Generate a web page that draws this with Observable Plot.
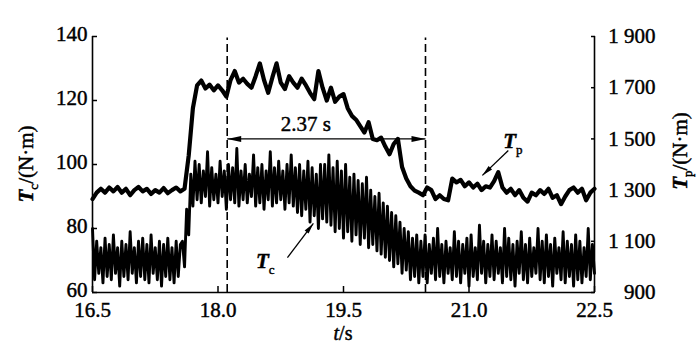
<!DOCTYPE html>
<html><head><meta charset="utf-8">
<script src="https://cdn.jsdelivr.net/npm/d3@7"></script>
<script src="https://cdn.jsdelivr.net/npm/@observablehq/plot@0.6"></script>
<style>
body{margin:0;background:#fff}
svg, svg text, svg tspan{font-family:"Liberation Serif","DejaVu Serif","Times New Roman",Times,serif !important}
svg text{stroke:#000;stroke-width:0.45px;paint-order:stroke}
</style>
</head><body><div id="chart"></div>
<script>
// ---- data ----
const xTicks = [16.5, 18.0, 19.5, 21.0, 22.5];
const tcTicks = [60, 80, 100, 120, 140];
const tpTicks = [900, 1100, 1300, 1500, 1700, 1900];
const tpTickLabels = ["900", "1 100", "1 300", "1 500", "1 700", "1 900"];
const tStart = 16.5;
const tpStep = 0.05;
const tpValues = [
  1265,1290,1305,1290,1310,1295,1312,1290,1305,1280,
  1300,1312,1295,1305,1285,1300,1290,1308,1288,1300,
  1310,1295,1305,1435,1620,1709,1728,1697,1712,1690,
  1709,1690,1665,1730,1765,1720,1735,1715,1700,1745,
  1795,1730,1680,1740,1795,1720,1695,1745,1720,1700,
  1735,1710,1680,1655,1765,1700,1650,1700,1645,1665,
  1675,1620,1590,1575,1550,1525,1565,1500,1495,1505,
  1470,1440,1480,1500,1390,1345,1315,1298,1290,1280,
  1310,1300,1265,1280,1265,1260,1345,1330,1340,1315,
  1330,1310,1325,1300,1315,1310,1335,1370,1310,1290,
  1305,1280,1300,1270,1255,1290,1280,1300,1285,1305,
  1270,1280,1245,1275,1300,1310,1290,1305,1260,1290,
  1305
];
const tcStep = 0.025;
const tcValues = [
  // 16.5 - 17.55
  80,64,76,66,74,63,77,65,75,64, 78,66,74,62,76,65,75,64,79,66,
  74,63,76,65,77,64,75,63,78,66, 74,64,76,62,75,65,77,64,74,63,
  76,65,75,
  // rise
  76,68,86,78,97,87,101,
  // plateau 17.75 - 19.25
  89,100,88,98,90,104,87,99,89,97, 88,101,90,98,86,100,89,99,88,105,
  87,98,89,100,88,97,90,103,87,99, 88,100,86,98,89,104,87,99,88,101,
  89,98,86,100,88,103,87,99,85,100, 84,98,86,101,82,99,84,97,80,100,
  83,
  // decline 19.275 - 20.4
  100,82,103,81,99,79,101,80,98,77, 100,79,96,76,97,78,95,75,94,77,
  96,74,92,75,90,73,91,72,88,71, 87,70,85,68,84,69,82,66,80,67,
  79,64,77,65,78,63,
  // 20.425 - 22.5
  76,65,78,63,75,66,77,64,80,65, 75,63,76,66,74,64,79,65,76,63,
  75,66,77,62,78,65,74,64,81,66, 76,63,75,65,78,64,76,66,74,63,
  80,65,77,64,75,62,76,66,79,64, 75,63,77,65,74,66,80,64,76,63,
  78,65,75,62,77,66,74,64,79,63, 76,65,75,62,78,64,76,63,74,65,
  80,64,75,66
];
const markerTimes = [18.11, 20.48];
const spanLabel = "2.37 s";
const spanLevel = 108;          // in Tc units
const spanLabelPos = {t: 19.05, tc: 110.6};
const tcArrow = {t1: 18.83, v1: 70.9, t2: 19.14, v2: 81.6};
const tpArrow = {t1: 21.47, v1: 104.4, t2: 21.16, v2: 96.6};
const tcLabelPos = {t: 18.57, v: 67.5};
const tpLabelPos = {t: 21.53, v: 105.0};

// dual-axis relation: Tp 900..1900 <-> Tc 60..140
const tcOf = tp => 60 + (tp - 900) * 80 / 1000;
const tpOf = tc => 900 + (tc - 60) * 1000 / 80;

const tpData = tpValues.map((v, i) => ({t: tStart + i * tpStep, y: tcOf(v)}));
const tcData = tcValues.map((v, i) => ({t: tStart + i * tcStep, y: v}));

const headSymbol = (L, W) => ({
  draw(ctx) { ctx.moveTo(0, 0); ctx.lineTo(-L, -W / 2); ctx.lineTo(-L, W / 2); ctx.closePath(); }
});

const FONT = "'Liberation Serif', 'DejaVu Serif', 'Times New Roman', serif";

const plot = Plot.plot({
  width: 700, height: 345,
  marginLeft: 92, marginRight: 106, marginTop: 36, marginBottom: 53,
  style: {fontFamily: FONT, fontSize: "21px", background: "white", color: "black", overflow: "visible"},
  x: {domain: [16.5, 22.5]},
  y: {domain: [60, 140]},
  marks: [
    Plot.line(tcData, {x: "t", y: "y", stroke: "black", strokeWidth: 2.9}),
    Plot.line(tpData, {x: "t", y: "y", stroke: "black", strokeWidth: 4.2, strokeLinejoin: "round"}),
    Plot.ruleX(markerTimes, {y1: 60, y2: 139.5, stroke: "black", strokeWidth: 1.6, strokeDasharray: "8,4"}),
    Plot.link([{x1: markerTimes[0], x2: markerTimes[1]}], {x1: "x1", x2: "x2", y1: spanLevel, y2: spanLevel, stroke: "black", strokeWidth: 1.4}),
    Plot.dot([markerTimes[1]], {x: d => d, y: spanLevel, symbol: headSymbol(14, 6), fill: "black", stroke: null, rotate: 0}),
    Plot.dot([markerTimes[0]], {x: d => d, y: spanLevel, symbol: headSymbol(14, 6), fill: "black", stroke: null, rotate: 180}),
    Plot.text([spanLabel], {x: spanLabelPos.t, y: spanLabelPos.tc, text: d => d, fontSize: 21, lineAnchor: "bottom", fontFamily: FONT}),
    Plot.link([tcArrow], {x1: "t1", y1: "v1", x2: "t2", y2: "v2", stroke: "black", strokeWidth: 1.3}),
    Plot.dot([tcArrow], {x: "t2", y: "v2", symbol: headSymbol(11, 5), fill: "black", stroke: null, rotate: -52}),
    Plot.link([tpArrow], {x1: "t1", y1: "v1", x2: "t2", y2: "v2", stroke: "black", strokeWidth: 1.3}),
    Plot.dot([tpArrow], {x: "t2", y: "v2", symbol: headSymbol(11, 5), fill: "black", stroke: null, rotate: 136}),
    Plot.ruleX([16.5, 22.5], {stroke: "black", strokeWidth: 1.6}),
    Plot.ruleY([60], {stroke: "black", strokeWidth: 1.6}),
    Plot.axisX({ticks: xTicks, tickSize: -6, tickPadding: 16, tickFormat: d => d.toFixed(1), label: null, fontSize: 21, strokeWidth: 1.5, fontFamily: FONT}),
    Plot.axisY({anchor: "left", ticks: tcTicks, tickSize: 0, tickPadding: 5, dy: -2, label: null, fontSize: 21, fontFamily: FONT}),
    Plot.axisY({anchor: "left", ticks: tcTicks, tickSize: -5, tickPadding: 10, text: null, label: null, strokeWidth: 1.5}),
    Plot.axisY({anchor: "right", ticks: tpTicks.map(tcOf), tickSize: -4, tickPadding: 65, textAnchor: "end",
      tickFormat: d => tpTickLabels[tpTicks.indexOf(Math.round(tpOf(d)))], label: null, fontSize: 21, strokeWidth: 1.5, fontFamily: FONT})
  ]
});

document.getElementById("chart").appendChild(plot);

// ---- rich text labels (subscripts) ----
const svg = d3.select(plot);
const sx = plot.scale("x"), sy = plot.scale("y");
function richText(g, parts) {
  g.attr("font-family", FONT);
  parts.forEach(p => {
    const ts = g.append("tspan").text(p.text);
    if (p.italic) ts.attr("font-style", "italic");
    if (p.bold) ts.attr("font-weight", "bold");
    if (p.size) ts.attr("font-size", p.size);
    if (p.dy) ts.attr("dy", p.dy);
  });
}
const symParts = (sub) => [
  {text: "T", italic: true, bold: true},
  {text: sub, size: 13, dy: 5},
  {text: "/(N·m)", dy: -5}
];
// left y label
richText(svg.append("text").attr("font-size", 21).attr("text-anchor", "middle")
  .attr("transform", `translate(33,${(sy.apply(140) + sy.apply(60)) / 2})` + " rotate(-90)"), symParts("c"));
// right y label
richText(svg.append("text").attr("font-size", 21).attr("text-anchor", "middle")
  .attr("transform", `translate(687,151) rotate(-90)`), symParts("p"));
// x label
const xl = svg.append("text").attr("font-size", 20).attr("text-anchor", "middle")
  .attr("x", sx.apply(19.5)).attr("y", 340);
richText(xl, [{text: "t", italic: true}, {text: "/s"}]);
// curve labels
richText(svg.append("text").attr("font-size", 21).attr("x", sx.apply(tcLabelPos.t)).attr("y", sy.apply(tcLabelPos.v)),
  [{text: "T", italic: true, bold: true}, {text: "c", size: 13, dy: 6}]);
richText(svg.append("text").attr("font-size", 21).attr("x", sx.apply(tpLabelPos.t)).attr("y", sy.apply(tpLabelPos.v)),
  [{text: "T", italic: true, bold: true}, {text: "p", size: 13, dy: 6}]);
</script>
</body></html>
